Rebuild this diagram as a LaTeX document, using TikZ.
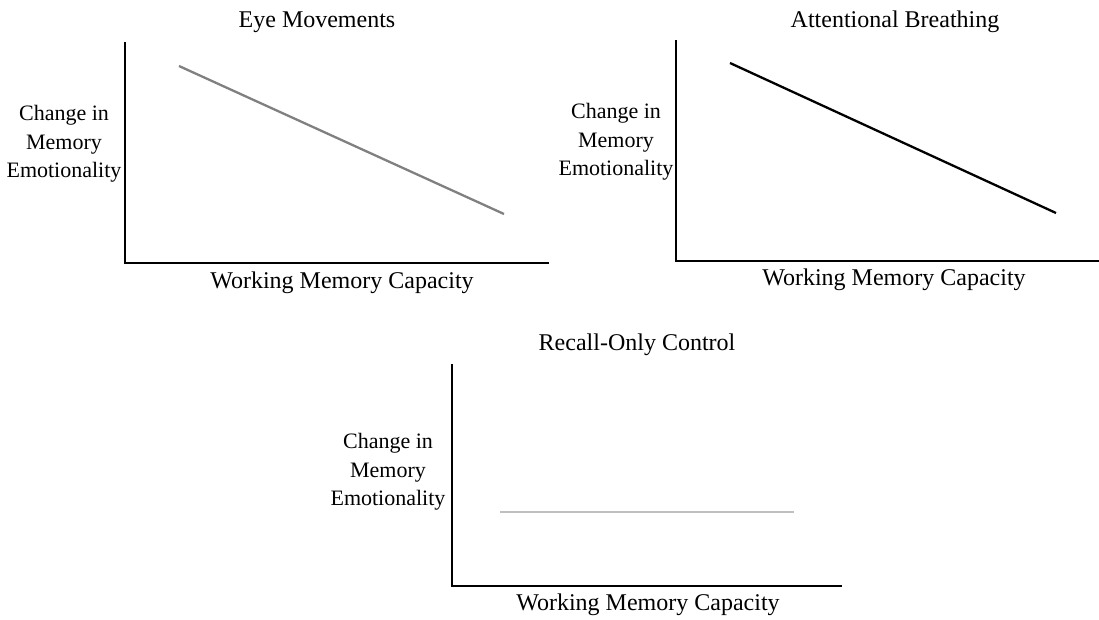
\documentclass[tikz,border=0pt]{standalone}
\usepackage{fontspec}
\setmainfont{Liberation Serif}
\begin{document}
\begin{tikzpicture}[x=1pt,y=-1pt,
  ttl/.style={font=\fontsize{24}{28}\selectfont, inner sep=0pt, align=center},
  ylbl/.style={font=\fontsize{22}{28.5}\selectfont, inner sep=0pt, align=center},
  axis/.style={line width=2.6pt, black},
  trend/.style={line width=2.3pt},
]
\useasboundingbox (0,0) rectangle (1099,619);

% ---- Eye Movements ----
\node[ttl] (t1) at (317,22) {Eye Movements};
\node[ylbl] (y1) at (64,144) {Change in\\Memory\\Emotionality};
\node[ttl] (x1) at (342,283) {Working Memory Capacity};
\coordinate (o1) at (125,263);
\coordinate (top1) at (125,42);
\coordinate (end1) at (549,263);
\draw[axis] (top1) -- (o1) -- (end1);
\coordinate (a1) at (179,66);
\coordinate (b1) at (504,214);
\draw[trend, black!50] (a1) -- (b1);

% ---- Attentional Breathing ----
\node[ttl] (t2) at (895,22) {Attentional Breathing};
\node[ylbl] (y2) at (616,142) {Change in\\Memory\\Emotionality};
\node[ttl] (x2) at (894,280) {Working Memory Capacity};
\coordinate (o2) at (676,261);
\coordinate (top2) at (676,40);
\coordinate (end2) at (1099,261);
\draw[axis] (top2) -- (o2) -- (end2);
\coordinate (a2) at (730,63);
\coordinate (b2) at (1056,213);
\draw[trend, black] (a2) -- (b2);

% ---- Recall-Only Control ----
\node[ttl] (t3) at (637,345) {Recall-Only Control};
\node[ylbl] (y3) at (388,472) {Change in\\Memory\\Emotionality};
\node[ttl] (x3) at (648,605) {Working Memory Capacity};
\coordinate (o3) at (452,586);
\coordinate (top3) at (452,364);
\coordinate (end3) at (842,586);
\draw[axis] (top3) -- (o3) -- (end3);
\coordinate (a3) at (500,512);
\coordinate (b3) at (794,512);
\draw[line width=1.2pt, black!25] (a3) -- (b3);
\end{tikzpicture}
\end{document}
